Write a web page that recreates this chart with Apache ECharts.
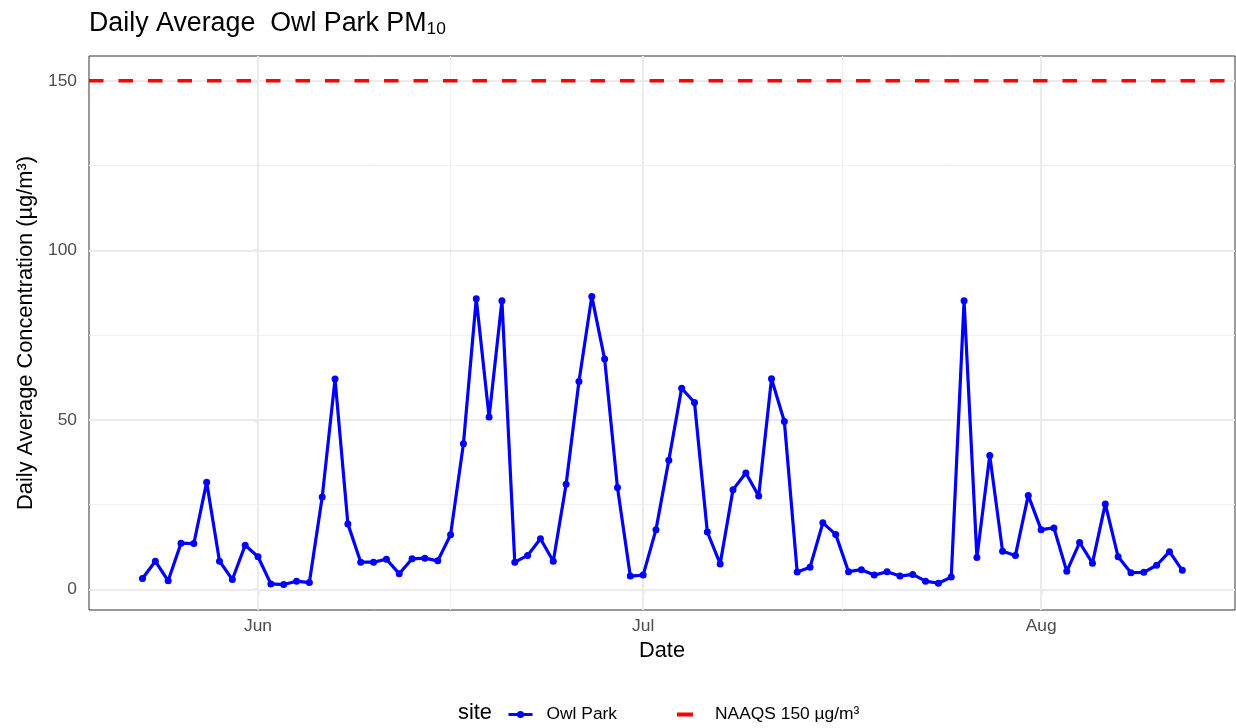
<!DOCTYPE html>
<html>
<head>
<meta charset="utf-8">
<script src="https://cdn.jsdelivr.net/npm/echarts@6/dist/echarts.min.js"></script>
<style>html,body{margin:0;padding:0;background:#fff;}#c{width:1236px;height:728px;}</style>
</head>
<body>
<div id="c"></div>
<script>
// ---- data ----
const dates = [
 '2023-05-23','2023-05-24','2023-05-25','2023-05-26','2023-05-27','2023-05-28','2023-05-29','2023-05-30','2023-05-31',
 '2023-06-01','2023-06-02','2023-06-03','2023-06-04','2023-06-05','2023-06-06','2023-06-07','2023-06-08','2023-06-09','2023-06-10',
 '2023-06-11','2023-06-12','2023-06-13','2023-06-14','2023-06-15','2023-06-16','2023-06-17','2023-06-18','2023-06-19','2023-06-20',
 '2023-06-21','2023-06-22','2023-06-23','2023-06-24','2023-06-25','2023-06-26','2023-06-27','2023-06-28','2023-06-29','2023-06-30',
 '2023-07-01','2023-07-02','2023-07-03','2023-07-04','2023-07-05','2023-07-06','2023-07-07','2023-07-08','2023-07-09','2023-07-10',
 '2023-07-11','2023-07-12','2023-07-13','2023-07-14','2023-07-15','2023-07-16','2023-07-17','2023-07-18','2023-07-19','2023-07-20',
 '2023-07-21','2023-07-22','2023-07-23','2023-07-24','2023-07-25','2023-07-26','2023-07-27','2023-07-28','2023-07-29','2023-07-30','2023-07-31',
 '2023-08-01','2023-08-02','2023-08-03','2023-08-04','2023-08-05','2023-08-06','2023-08-07','2023-08-08','2023-08-09','2023-08-10','2023-08-11','2023-08-12'
];
const owlPark = [
 3.2, 8.3, 2.5, 13.6, 13.5, 31.6, 8.3, 2.9, 13.0,
 9.6, 1.6, 1.4, 2.4, 2.0, 27.2, 62.0, 19.3, 8.0, 8.0,
 8.9, 4.6, 9.0, 9.2, 8.4, 16.1, 42.9, 85.7, 50.8, 85.1,
 8.0, 10.0, 14.9, 8.3, 31.0, 61.3, 86.4, 67.9, 30.0, 3.9,
 4.2, 17.6, 38.1, 59.3, 55.1, 16.9, 7.5, 29.4, 34.3, 27.5,
 62.1, 49.5, 5.1, 6.5, 19.6, 16.2, 5.2, 5.8, 4.2, 5.2,
 3.9, 4.4, 2.4, 1.8, 3.6, 85.1, 9.4, 39.5, 11.2, 10.0, 27.7,
 17.6, 18.1, 5.3, 13.8, 7.7, 25.2, 9.6, 4.9, 5.0, 7.1, 11.1, 5.6
];
const naaqsLevel = 150;
const xTickDates = ['2023-06-01','2023-07-01','2023-08-01'];
const xTickLabels = ['Jun','Jul','Aug'];
const xMinorDates = ['2023-06-16','2023-07-16T12:00'];
const yTicks = [0, 50, 100, 150];
const yMinor = [25, 75, 125];
const xRangeDates = ['2023-05-18T20:00','2023-08-16T02:30'];
const yRange = [-6.1, 157.3];

// ---- helpers ----
const ORIGIN = Date.UTC(2023, 5, 1);
function dayNum(s) {
  const [d, t] = s.split('T');
  const [y, m, dd] = d.split('-').map(Number);
  let h = 0, mi = 0;
  if (t) { [h, mi] = t.split(':').map(Number); }
  return (Date.UTC(y, m - 1, dd, h, mi) - ORIGIN) / 86400000;
}
const xTicks = xTickDates.map(dayNum);
const xMinor = xMinorDates.map(dayNum);
const xMin = dayNum(xRangeDates[0]);
const xMax = dayNum(xRangeDates[1]);
const owlData = dates.map((d, i) => [dayNum(d), owlPark[i]]);

const gridMajor = { color: '#EBEBEB', width: 2, type: 'solid' };
const gridMinor = { color: '#F0F0F0', width: 1, type: 'solid' };
const gridLines = []
  .concat(xMinor.map(v => ({ xAxis: v, lineStyle: gridMinor })))
  .concat(yMinor.map(v => ({ yAxis: v, lineStyle: gridMinor })))
  .concat(xTicks.map(v => ({ xAxis: v, lineStyle: gridMajor })))
  .concat(yTicks.map(v => ({ yAxis: v, lineStyle: gridMajor })));

const FONT = '"Liberation Sans", Arial, sans-serif';
const chart = echarts.init(document.getElementById('c'), null, { renderer: 'canvas' });
chart.setOption({
  animation: false,
  backgroundColor: '#fff',
  textStyle: { fontFamily: FONT },
  title: [
    {
      text: 'Daily Average  Owl Park PM{sub|10}',
      left: 89, top: 10, padding: 0,
      textStyle: {
        fontFamily: FONT, fontSize: 26.8, fontWeight: 'normal', color: '#000', lineHeight: 28,
        rich: { sub: { fontFamily: FONT, fontSize: 17.4, lineHeight: 18, verticalAlign: 'bottom', color: '#000' } }
      }
    },
    {
      text: 'site', left: 458, top: 702, padding: 0,
      textStyle: { fontFamily: FONT, fontSize: 21.8, fontWeight: 'normal', color: '#000' }
    }
  ],
  legend: [
    {
      data: ['Owl Park'], left: 507, top: 706, padding: 0,
      itemWidth: 24, itemHeight: 9,
      lineStyle: { width: 3 },
      textStyle: { fontFamily: FONT, fontSize: 17.4, color: '#000', padding: [0, 0, 0, 9] }
    },
    {
      data: [{ name: 'NAAQS 150 µg/m³', icon: 'rect' }], left: 677, top: 706, padding: 0,
      itemWidth: 16, itemHeight: 4,
      itemStyle: { color: '#FF0000' },
      textStyle: { fontFamily: FONT, fontSize: 17.4, color: '#000', padding: [0, 0, 0, 17] }
    }
  ],
  grid: {
    left: 89, right: 1, top: 56, bottom: 118,
    show: true, borderColor: '#333333', borderWidth: 1, backgroundColor: '#fff'
  },
  xAxis: {
    type: 'value', min: xMin, max: xMax,
    name: 'Date', nameLocation: 'middle', nameGap: 29,
    nameTextStyle: { fontFamily: FONT, fontSize: 21.8, color: '#000' },
    axisLine: { show: false },
    axisTick: { show: true, length: 5, lineStyle: { color: '#333333', width: 1.2 }, customValues: xTicks },
    axisLabel: {
      customValues: xTicks, margin: 8, fontFamily: FONT, fontSize: 17.4, color: '#4D4D4D',
      formatter: v => { const i = xTicks.findIndex(t => Math.abs(t - v) < 1e-6); return i >= 0 ? xTickLabels[i] : ''; }
    },
    splitLine: { show: false }
  },
  yAxis: {
    type: 'value', min: yRange[0], max: yRange[1],
    name: 'Daily Average Concentration (µg/m³)', nameLocation: 'middle', nameGap: 52, nameRotate: 90,
    nameTextStyle: { fontFamily: FONT, fontSize: 21.8, color: '#000' },
    axisLine: { show: false },
    axisTick: { show: true, length: 5, lineStyle: { color: '#333333', width: 1.2 }, customValues: yTicks },
    axisLabel: {
      customValues: yTicks, margin: 12, fontFamily: FONT, fontSize: 17.4, color: '#4D4D4D',
      formatter: v => String(Math.round(v))
    },
    splitLine: { show: false }
  },
  series: [
    {
      name: 'grid', type: 'line', data: [], silent: true, z: 1,
      markLine: { silent: true, z: 1, symbol: ['none', 'none'], label: { show: false }, animation: false, data: gridLines }
    },
    {
      name: 'NAAQS 150 µg/m³', type: 'line', z: 3,
      data: [[xMin, naaqsLevel], [xMax, naaqsLevel]],
      symbol: 'none', silent: true,
      lineStyle: { color: '#FF0000', width: 3.5, type: [14.5, 15] },
      itemStyle: { color: '#FF0000' }
    },
    {
      name: 'Owl Park', type: 'line', z: 4,
      data: owlData,
      symbol: 'circle', symbolSize: 7, showSymbol: true, showAllSymbol: true,
      lineStyle: { color: '#0000FF', width: 3.2 },
      itemStyle: { color: '#0000FF' }
    }
  ]
});
</script>
</body>
</html>
